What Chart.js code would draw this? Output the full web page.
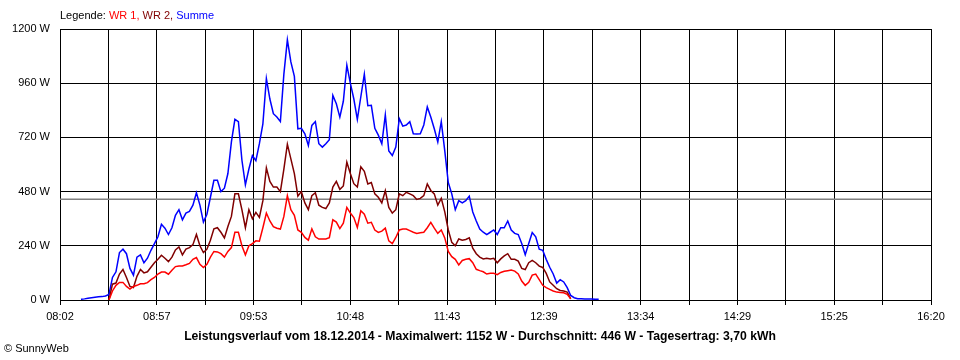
<!DOCTYPE html>
<html>
<head>
<meta charset="utf-8">
<script src="https://cdn.jsdelivr.net/npm/chart.js@4/dist/chart.umd.min.js"></script>
<style>
  body { margin: 0; background: #fff; }
  #wrap { position: relative; width: 960px; height: 360px; font-family: "Liberation Sans", Arial, sans-serif; }
  #legend { position: absolute; left: 60px; top: 9px; font-size: 11px; }
  #title { position: absolute; left: 0; width: 960px; top: 329px; text-align: center; font-size: 12.2px; font-weight: bold; }
  #copy { position: absolute; left: 4px; top: 342px; font-size: 11px; }
</style>
</head>
<body>
<div id="wrap">
  <canvas id="myChart" width="960" height="360"></canvas>
  <div id="legend">Legende: <span style="color:#ff0000">WR 1,</span> <span style="color:#800000">WR 2,</span> <span style="color:#0000ff">Summe</span></div>
  <div id="title">Leistungsverlauf vom 18.12.2014 - Maximalwert: 1152 W - Durchschnitt: 446 W - Tagesertrag: 3,70 kWh</div>
  <div id="copy">&copy; SunnyWeb</div>
</div>
<script>
// time axis: minutes after midnight, 08:02 .. 16:20
var axisStart = 482;
var axisEnd = 980;
var tickLabels = ["08:02", "08:57", "09:53", "10:48", "11:43", "12:39", "13:34", "14:29", "15:25", "16:20"];
var yTicks = [0, 240, 480, 720, 960, 1200];

// samples every 2 minutes starting 08:14
var sampleStart = 494;
var sampleStep = 2;

var summe = [
  3, 5, 8, 10, 12, 14, 15, 18, 25, 100,
  125, 210, 225, 205, 140, 110, 190, 200, 165, 185,
  220, 250, 280, 335, 318, 290, 320, 375, 400, 355,
  385, 392, 420, 475, 420, 345, 380, 455, 530, 530,
  480, 495, 560, 700, 800, 790, 620, 510, 580, 640,
  617, 692, 780, 980, 890, 825, 810, 790, 1000, 1152,
  1054, 990, 758, 760, 736, 684, 773, 790, 692, 677,
  692, 710, 906, 869, 810, 880, 1040, 960, 890, 800,
  900, 1000, 860, 862, 760, 730, 692, 820, 660, 640,
  677, 803, 770, 775, 790, 736, 735, 736, 775, 855,
  810, 758, 700, 790, 660, 520, 470, 400, 440, 430,
  440, 460, 390, 350, 314, 300, 290, 300, 310, 290,
  320, 320, 350, 310, 295, 290, 250, 200, 250, 299,
  280, 225, 220, 180, 145, 115, 75, 90, 80, 55,
  20, 10, 6, 5, 4, 4, 4, 3, 3
];

var wr2 = [
  null, null, null, null, null, null, null, null, 0, 70,
  75, 115, 135, 100, 60, 55, 105, 135, 120, 125,
  145, 165, 180, 198, 185, 170, 190, 222, 235, 200,
  225, 232, 245, 290, 240, 210, 225, 265, 315, 320,
  300, 275, 325, 370, 470, 470, 400, 320, 400, 360,
  388, 366, 440, 585, 525, 500, 500, 480, 580, 690,
  625, 560, 460, 480, 430, 400, 462, 475, 420, 410,
  405, 430, 500, 525, 490, 505, 610, 560, 515, 500,
  590, 570, 514, 520, 470, 455, 430, 484, 410, 385,
  400, 470, 462, 477, 470, 462, 445, 450, 462, 514,
  485, 470, 420, 450, 390, 310, 255, 240, 270, 265,
  268, 275, 230, 205, 190, 182, 185, 182, 185, 165,
  182, 195, 205, 180, 180, 172, 140, 135, 165, 175,
  165, 150, 144, 118, 80, 65, 50, 42, 40, 35,
  5, null, null, null, null, null, null, null, null
];

var wr1 = [
  null, null, null, null, null, null, null, null, 0, 40,
  65, 78, 78, 60, 48, 60, 65, 72, 72, 77,
  90, 100, 115, 124, 124, 114, 132, 148, 151, 151,
  156, 162, 180, 188, 158, 144, 158, 190, 215, 213,
  205, 190, 215, 232, 300, 300, 240, 200, 240, 250,
  262, 260, 320, 385, 350, 325, 318, 314, 370, 462,
  400, 375, 310, 300, 277, 265, 315, 280, 270, 270,
  270, 276, 355, 345, 316, 340, 410, 385, 365, 321,
  395, 380, 340, 344, 310, 299, 305, 318, 262, 250,
  277, 310, 314, 314, 307, 300, 295, 298, 300, 320,
  344, 318, 295, 310, 275, 215, 192, 180, 155, 175,
  180, 183, 165, 136, 130, 125, 115, 118, 118, 112,
  122, 127, 130, 133, 128, 115, 84, 65, 78, 110,
  115, 90, 65, 55, 47, 40, 35, 33, 32, 25,
  5, null, null, null, null, null, null, null, null
];

var average = 446;

function toPoints(values) {
  return values.map(function (v, i) {
    return { x: sampleStart + i * sampleStep, y: v };
  });
}

var ctx = document.getElementById("myChart");
new Chart(ctx, {
  type: "line",
  data: {
    datasets: [
      { label: "WR 1", data: toPoints(wr1), borderColor: "#ff0000", borderWidth: 1.5, pointRadius: 0, order: 1 },
      { label: "WR 2", data: toPoints(wr2), borderColor: "#800000", borderWidth: 1.5, pointRadius: 0, order: 2 },
      { label: "Summe", data: toPoints(summe), borderColor: "#0000ff", borderWidth: 1.5, pointRadius: 0, order: 3 },
      { label: "Durchschnitt", data: [{ x: axisStart, y: average }, { x: axisEnd, y: average }], borderColor: "#808080", borderWidth: 1.5, pointRadius: 0, order: 4 }
    ]
  },
  options: {
    responsive: false,
    animation: false,
    devicePixelRatio: 1,
    layout: { padding: { top: 29, right: 29, left: 0, bottom: 0 } },
    plugins: { legend: { display: false }, tooltip: { enabled: false } },
    scales: {
      x: {
        type: "linear",
        min: axisStart,
        max: axisEnd,
        afterBuildTicks: function (axis) {
          var n = (tickLabels.length - 1) * 2;
          var t = [];
          for (var i = 0; i <= n; i++) t.push({ value: axisStart + i * (axisEnd - axisStart) / n });
          axis.ticks = t;
        },
        afterFit: function (s) { s.height = 60; },
        ticks: {
          autoSkip: false,
          maxRotation: 0,
          color: "#000",
          padding: 5,
          font: { family: "Liberation Sans", size: 11 },
          callback: function (v, i) { return i % 2 === 0 ? tickLabels[i / 2] : ""; }
        },
        grid: { color: "#000", lineWidth: 1, tickLength: 5 },
        border: { color: "#000" }
      },
      y: {
        min: 0,
        max: 1200,
        afterBuildTicks: function (axis) {
          axis.ticks = yTicks.map(function (v) { return { value: v }; });
        },
        afterFit: function (s) { s.width = 60; },
        ticks: {
          color: "#000",
          padding: 10,
          font: { family: "Liberation Sans", size: 11 },
          callback: function (v) { return v + " W"; }
        },
        grid: { color: "#000", lineWidth: 1, drawTicks: false },
        border: { color: "#000" }
      }
    }
  }
});
</script>
</body>
</html>
